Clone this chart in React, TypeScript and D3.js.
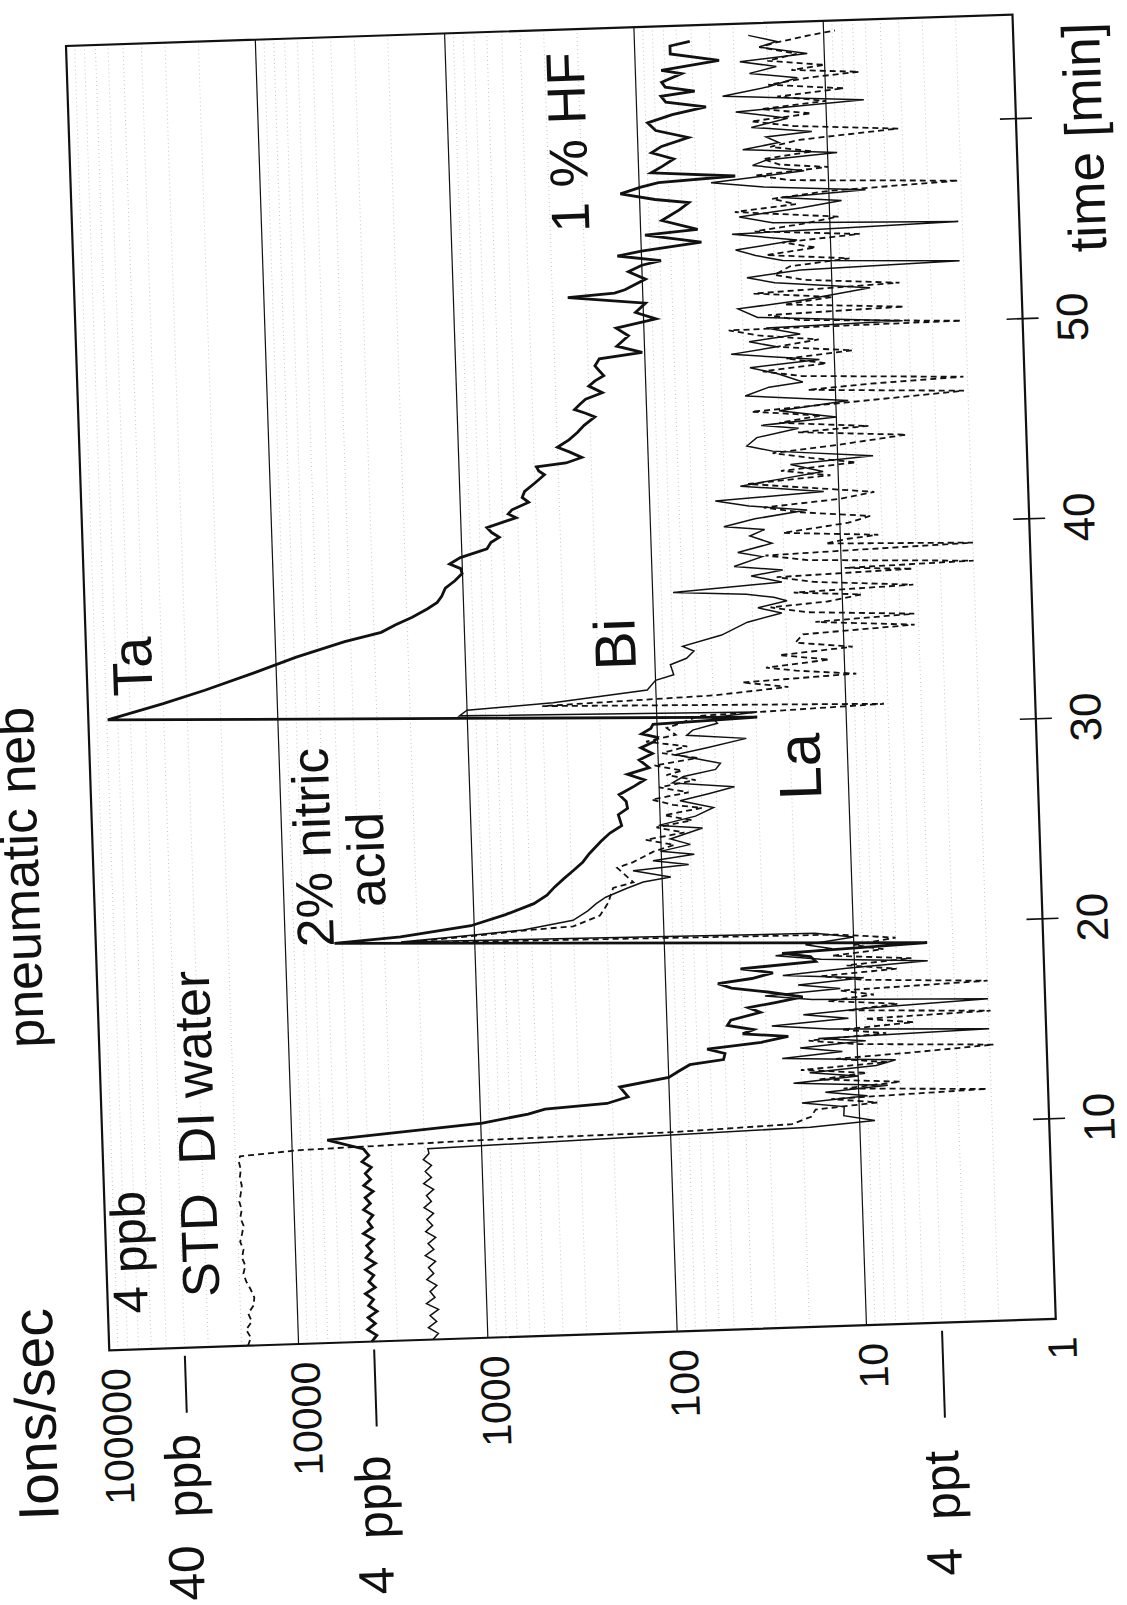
import React from "react";
import * as d3 from "d3";

// ---------- data (time in min, value in ions/sec) ----------
const timeTicks = [10, 20, 30, 40, 50, 60];
const timeTickLabels = ["10", "20", "30", "40", "50", ""];
const valueTicks = [100000, 10000, 1000, 100, 10, 1];
const valueTickLabels = ["100000", "10000", "1000", "100", "10", "1"];
const concLabels = ["40  ppb", "4  ppb", "4  ppt"];
const concValues = [40000, 4000, 4];

const taSeries: [number, number][] = [
  [0.0,4100],[0.3,3850],[0.6,4300],[0.9,3900],[1.2,4250],[1.5,3800],[1.8,4200],[2.1,3950],[2.4,4350],[2.7,3850],
  [3.0,4150],[3.3,3900],[3.6,4300],[3.9,3800],[4.2,4250],[4.5,3950],[4.8,4200],[5.1,3850],[5.4,4350],[5.7,3900],
  [6.0,4100],[6.3,3850],[6.6,4300],[6.9,3950],[7.2,4200],[7.5,3800],[7.8,4250],[8.1,3900],[8.4,4150],[8.7,3850],
  [9.0,4300],[9.3,3950],[9.63,4200],
  [10.13,6500],[10.73,980],[11.1,560],[11.32,455],[11.5,214],[11.8,165],[12.3,182],[12.7,100],[13.0,88],[13.3,77],
  [13.5,51],[13.8,50],[14.05,62],[14.3,32],[14.55,23],[14.75,40],[14.95,35],[15.2,48],[15.45,46],[15.8,32],
  [16.05,37],[16.25,27],[16.5,19],[16.8,29],[17.05,45],[17.3,53],[17.5,35],[17.75,27],[18.0,40],[18.25,16],
  [18.5,17],[18.7,24],[19.0,4.1],
  [19.95,5500],[20.16,2460],[20.6,1040],[21.1,680],[21.6,480],[22.0,408],[22.4,370],[22.8,330],[23.2,292],[23.6,260],
  [24.0,240],[24.6,207],[25.0,185],[25.35,160],[25.9,166],[26.2,148],[26.55,150],[26.9,163],[27.3,135],[27.6,119],
  [27.9,146],[28.2,112],[28.6,126],[28.9,107],[29.2,123],[29.5,104],[29.7,100],[29.9,121],[30.15,108],[30.35,105],
  [30.54,29.5],
  [31.48,79000],[32.2,40000],[32.8,24000],[33.6,13000],[34.3,7800],[35.0,4300],[35.4,2750],[35.75,2300],[36.1,1875],
  [36.5,1550],[36.8,1375],[37.1,1300],[37.5,1240],[37.85,1100],[38.2,1005],[38.45,1020],[38.7,1165],[39.0,1020],
  [39.4,735],[39.7,700],[39.95,630],[40.2,690],[40.45,730],[40.9,510],[41.1,560],[41.3,535],[41.65,435],[41.9,470],
  [42.2,455],[42.6,400],[43.0,355],[43.2,380],[43.4,390],[43.55,272],[43.8,224],[44.1,260],[44.35,300],[44.7,260],
  [45.05,234],[45.4,215],[45.8,188],[46.0,210],[46.2,240],[46.45,225],[46.7,209],[47.0,170],[47.35,200],[47.6,185],
  [47.85,166],[48.1,175],[48.35,184],[48.7,174],[48.95,103],[49.3,140],[49.8,121],[50.2,140],[50.6,86],[50.95,110],
  [51.4,97],[51.8,249],[51.95,141],[52.1,124],[52.6,96],[53.0,118],[53.3,100],[53.5,79],[53.8,134],[54.0,100],
  [54.35,48],[54.8,95],[55.0,50],[55.5,77],[56.0,62],[56.35,55],[56.56,83],[56.9,126],[57.2,98],[57.4,79],
  [57.6,31],[57.9,86],[58.2,75],[58.55,65],[58.9,85],[59.2,75],[59.6,54],[60.0,80],[60.4,88],[60.77,65],
  [61.1,43],[61.4,70],[61.7,74],[61.9,49],[62.15,70],[62.4,73],[62.8,57],[63.0,73],[63.4,36],[63.8,65],
  [64.2,65],[64.4,51],
];

const biSeries: [number, number][] = [
  [0,1950],[0.3,1820],[0.6,2050],[0.9,1850],[1.2,2000],[1.5,1800],[1.8,2080],[2.1,1870],[2.4,1980],[2.7,1820],
  [3.0,2050],[3.3,1880],[3.6,2000],[3.9,1830],[4.2,2070],[4.5,1860],[4.8,1990],[5.1,1810],[5.4,2040],[5.7,1870],
  [6.0,2000],[6.3,1840],[6.6,2060],[6.9,1880],[7.2,1990],[7.5,1820],[7.8,2050],[8.1,1860],[8.4,2000],[8.7,1850],
  [9.0,2040],[9.3,1900],[9.54,1920],
  [9.98,18.3],[10.2,8.3],[10.5,12.1],[10.95,12],[11.2,20],[11.45,9],[11.7,15],[11.95,7],[12.2,22],[12.45,10],
  [12.7,18],[12.95,8],[13.2,6.3],[13.45,25],[13.7,12],[13.95,20],[14.2,9],[14.4,16],[14.6,2.0],[14.85,14],
  [15.1,28],[15.35,11],[15.6,19],[15.85,8],[16.1,2.0],[16.35,17],[16.6,30],[16.85,12],[17.1,20],[17.35,9],
  [17.6,24],[17.85,11],[18.1,4.1],[18.35,15],[18.6,26],[18.85,13],[19.1,18],[19.4,10],[19.65,16],
  [19.9,2450],[20.13,1005],[20.3,553],[20.7,300],[21.15,250],[21.5,225],[21.8,200],[22.2,155],[22.5,126],[22.7,90],
  [23.08,142],[23.3,72],[23.54,111],[23.8,67],[24.0,101],[24.3,70],[24.6,89],[25.1,60],[25.3,102],[25.7,65],
  [26.1,52],[26.5,78],[26.8,55],[27.1,40],[27.4,85],[27.7,74],[28.0,50],[28.3,47],[28.8,81],[29.1,55],
  [29.5,34],[29.75,70],[30.0,65],[30.3,48],[30.6,51],[30.8,29.5],
  [31.1,1100],[31.37,1000],[31.6,351],[32.08,111],[32.55,100],[32.8,80],[33.3,83],[33.6,68],[33.95,62],[34.2,71],
  [34.7,44],[35.3,32],[35.7,21],[36.0,28],[36.3,19.6],[36.5,23],[36.7,32],[36.9,78],[37.25,20.7],[37.6,30],
  [37.85,20.4],[38.1,36.8],[38.55,26],[38.8,35],[39.2,23],[39.6,30],[39.9,25],[40.1,41],[40.45,28],[40.8,14.8],
  [41.1,30],[41.4,45],[41.7,12],[42.1,33],[42.4,20],[42.7,12],[43.1,17.8],[43.4,6.5],[43.8,22],[44.1,30],
  [44.5,26.5],[44.9,15.9],[45.1,25],[45.4,10],[45.8,20],[46.2,8.6],[46.6,30],[47.0,22.4],[47.2,14.8],[47.65,20],
  [48.0,28],[48.3,12],[48.7,35],[49.0,20],[49.3,28],[49.6,15],[49.96,22.6],[50.1,4.3],[50.5,25],[50.96,31.6],
  [51.3,14],[51.8,6.3],[52.2,20],[52.5,28],[52.8,14.6],[53.0,2.1],[53.3,18],[53.6,25],[53.9,31.8],[54.3,15],
  [54.7,33],[54.96,2.1],[55.2,20],[55.55,30],[55.9,14],[56.2,8.6],[56.45,18],[56.7,6.4],[57.0,22],[57.3,41.7],
  [57.75,13.4],[58.1,25],[58.35,21],[58.6,8.9],[58.9,28],[59.2,18],[59.5,21],[59.7,12],[60.0,25],[60.4,16],
  [60.8,30],[61.2,6.3],[61.6,35],[62.0,20],[62.4,14],[62.7,25],[63.0,18],[63.3,28],[63.6,12.3],[64.0,22],
  [64.25,17.8],[64.6,25],
];

const laSeries: [number, number][] = [
  [0,18500],[0.4,17800],[0.8,18800],[1.2,17500],[1.6,18200],[2.0,17000],[2.4,16800],[2.8,17500],[3.2,18400],[3.6,19000],
  [4.0,18500],[4.4,19200],[4.8,18800],[5.2,19500],[5.6,19000],[6.0,18600],[6.4,19300],[6.8,18900],[7.2,19400],[7.6,19000],
  [8.0,18700],[8.4,19100],[8.8,18800],[9.2,19200],[9.47,18900],
  [9.68,9100],[9.88,985],[9.96,96],[10.16,22.8],[10.5,18],[10.85,17],[11.1,8],[11.35,14],[11.6,2.1],[11.85,12],
  [12.1,6],[12.35,16],[12.6,9],[12.85,20],[13.1,7],[13.35,13],[13.55,5],[13.8,1.9],[14.05,10],[14.3,18],
  [14.55,7],[14.8,12],[15.05,5],[15.3,9],[15.5,1.95],[15.75,11],[16.0,6],[16.25,14],[16.5,8],[16.75,12],
  [17.0,2.0],[17.25,9],[17.5,15],[17.75,6],[18.0,11],[18.25,5],[18.5,13],[18.75,7],[19.0,10],[19.3,6],[19.55,12],
  [19.85,2480],[20.1,975],[20.3,490],[20.4,300],[20.9,216],[21.5,195],[22.25,182],[22.5,142],[23.25,172],[23.5,142],
  [24.0,110],[24.3,85],[24.6,120],[24.9,75],[25.2,105],[25.5,68],[25.8,95],[26.1,60],[26.3,85],[26.6,110],
  [26.9,70],[27.2,100],[27.5,64],[27.8,91],[28.0,75],[28.3,105],[28.6,62],[28.9,95],[29.2,70],[29.5,115],
  [29.8,80],[30.15,89],[30.4,73],[30.7,60],[31.0,6.3],[31.45,400],[31.7,50],[32.0,20],[32.3,35],[32.55,8.7],
  [32.8,18],[33.0,26],[33.3,12],[33.6,22],[33.9,9],[34.2,18],[34.6,16.4],[34.9,4.2],[35.2,14],[35.45,4.2],
  [35.7,15.5],[36.0,24],[36.2,12],[36.5,7.9],[36.7,18],[36.9,4.2],[37.2,14],[37.5,22],[37.7,4.2],[37.85,9.6],
  [38.0,2.0],[38.3,15],[38.6,25],[38.9,2.0],[39.1,12],[39.3,9.1],[39.45,6.3],[39.7,20],[40.1,9],[40.4,6.9],
  [40.7,16],[41.0,25],[41.3,10],[41.6,6.5],[41.9,14],[42.2,30],[42.5,11],[42.8,20],[43.1,8],[43.4,14],
  [43.7,22],[44.0,10],[44.4,4.3],[44.7,16],[44.9,6.8],[45.2,20],[45.5,12],[45.8,28],[46.1,9],[46.5,2.1],
  [46.8,14],[47.0,6.7],[47.2,2.1],[47.5,15],[47.8,24],[48.1,11],[48.4,18],[48.7,8],[49.0,20],[49.3,12],
  [49.6,25],[49.9,35.7],[50.0,2.1],[50.3,15],[50.6,22],[50.8,4.2],[51.1,18],[51.4,10],[51.7,26],[52.0,4.4],
  [52.3,14],[52.6,20],[53.0,16.5],[53.3,8],[53.6,22],[53.9,12],[54.2,18],[54.5,7],[54.8,25],[55.1,14],
  [55.4,9],[55.8,31.6],[56.1,15],[56.4,20],[56.7,10],[57.0,2.06],[57.3,16],[57.6,24],[57.9,10],[58.1,18],
  [58.4,22],[58.7,12],[59.0,20],[59.3,14],[59.7,4.2],[60.0,15],[60.3,25],[60.6,12],[60.9,22],[61.2,10],
  [61.5,18],[61.8,8],[62.1,20],[62.4,12],[62.6,6.6],[62.8,15],[63.0,10],[63.3,20],[63.6,14],[64.0,22],
  [64.2,17.8],[64.5,12],[64.7,8.7],
];

// ---------- layout ----------
const W = 947;
const H = 1305;
const FONT = "'Liberation Sans', Arial, Helvetica, sans-serif";

function RText(props: { x: number; y: number; size: number; anchor?: string; children: any }) {
  const { x, y, size, anchor = "start", children } = props;
  return (
    <text
      transform={`translate(${x},${y}) rotate(-90)`}
      fontSize={size}
      textAnchor={anchor}
      fontFamily={FONT}
      fill="#111"
      style={{ whiteSpace: "pre" }}
    >
      {children}
    </text>
  );
}

export default function App() {
  const x = d3.scaleLog().domain([100000, 1]).range([0, W]);
  const y = d3.scaleLinear().domain([0, 65.2]).range([H, 0]);
  const line = d3
    .line<[number, number]>()
    .x((d) => x(d[1]))
    .y((d) => y(d[0]));

  const minor: number[] = [];
  for (let e = 0; e < 5; e++) for (let m = 2; m <= 9; m++) minor.push(m * Math.pow(10, e));

  const dashEnds = [1370, 1390, 1400];

  return (
    <svg
      width={1127}
      height={1605}
      style={{ position: "absolute", left: 0, top: 0, display: "block" }}
    >
      <rect x={0} y={0} width={1127} height={1605} fill="#fff" />
      <g transform="translate(66,46) rotate(-1.9)">
        {/* minor dotted grid */}
        {minor.map((v, i) => (
          <line
            key={"m" + i}
            x1={x(v)}
            x2={x(v)}
            y1={0}
            y2={H}
            stroke="#888"
            strokeWidth={1}
            strokeDasharray="1 3"
            opacity={0.45}
          />
        ))}
        {/* major grid */}
        {valueTicks.slice(1, -1).map((v, i) => (
          <line key={"g" + i} x1={x(v)} x2={x(v)} y1={0} y2={H} stroke="#111" strokeWidth={1.2} />
        ))}
        {/* series */}
        <path d={line(laSeries) || ""} fill="none" stroke="#111" strokeWidth={1.8} strokeDasharray="6 4" />
        <path d={line(biSeries) || ""} fill="none" stroke="#111" strokeWidth={1.5} />
        <path d={line(taSeries) || ""} fill="none" stroke="#111" strokeWidth={2.8} />
        {/* frame */}
        <rect x={0} y={0} width={W} height={H} fill="none" stroke="#111" strokeWidth={2.2} />
        {/* time ticks */}
        {timeTicks.map((t, i) => (
          <line key={"t" + i} x1={W - 16} x2={W + 16} y1={y(t)} y2={y(t)} stroke="#111" strokeWidth={1.6} />
        ))}
        {timeTicks.map((t, i) => (
          <RText key={"tl" + i} x={W + 65} y={y(t)} size={44} anchor="middle">
            {timeTickLabels[i]}
          </RText>
        ))}
        <RText x={W + 86} y={240} size={53}>
          time [min]
        </RText>
        {/* value tick labels */}
        {valueTicks.map((v, i) => (
          <RText key={"vl" + i} x={x(v) + 20} y={H + 18} size={41} anchor="end">
            {valueTickLabels[i]}
          </RText>
        ))}
        {/* concentration markers */}
        {concValues.map((v, i) => (
          <g key={"c" + i}>
            <line x1={x(v)} x2={x(v)} y1={H + 8} y2={dashEnds[i]} stroke="#111" strokeWidth={2} />
            <RText x={x(v) + 12} y={1558} size={50}>
              {concLabels[i]}
            </RText>
          </g>
        ))}
        <RText x={-56} y={1473} size={57}>
          Ions/sec
        </RText>
        <RText x={-55} y={1000} size={52}>
          pneumatic neb
        </RText>
        {/* annotations */}
        <RText x={40} y={1269} size={49}>
          4 ppb
        </RText>
        <RText x={112} y={1255} size={52}>
          STD  DI water
        </RText>
        <RText x={238} y={909} size={52}>
          2% nitric
        </RText>
        <RText x={291} y={871} size={52}>
          acid
        </RText>
        <RText x={65} y={652} size={56}>
          Ta
        </RText>
        <RText x={549} y={642} size={58}>
          Bi
        </RText>
        <RText x={730} y={778} size={60}>
          La
        </RText>
        <RText x={517} y={203} size={54}>
          1 % HF
        </RText>
      </g>
    </svg>
  );
}
